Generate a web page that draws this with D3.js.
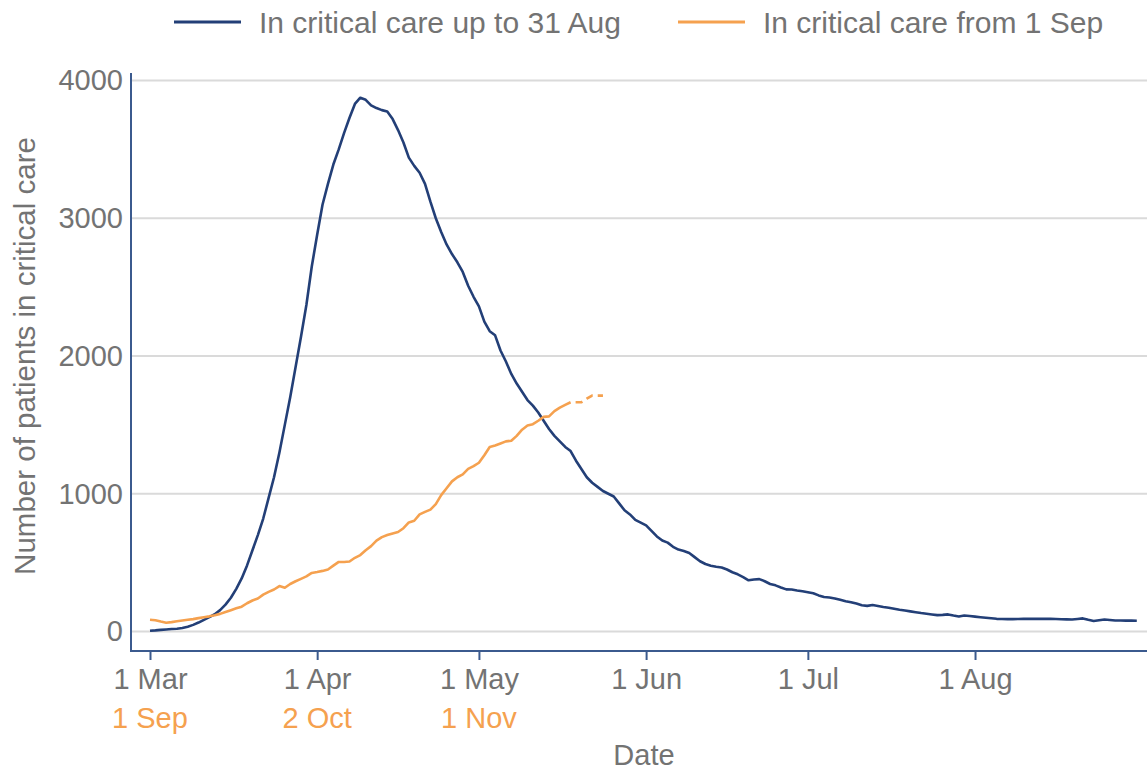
<!DOCTYPE html>
<html>
<head>
<meta charset="utf-8">
<script src="https://cdn.jsdelivr.net/npm/d3@7"></script>
<style>
  html, body { margin: 0; padding: 0; background: #ffffff; }
  svg { display: block; font-family: "Liberation Sans", Arial, sans-serif; }
</style>
</head>
<body>
<svg id="chart" width="1147" height="771"></svg>
<script>
// ---------------- DATA ----------------
// Daily patients in critical care, 1 Mar .. 31 Aug (day index 0..183)
const criticalCareToAug = [
  5, 8, 12, 15, 18, 20, 25, 35, 48, 65,
  85, 105, 125, 155, 195, 245, 310, 385, 480, 590,
  700, 820, 970, 1120, 1300, 1500, 1700, 1920, 2140, 2370,
  2650, 2880, 3100, 3250, 3390, 3500, 3620, 3730, 3830, 3875,
  3860, 3820, 3800, 3785, 3775, 3720, 3640, 3550, 3440, 3380,
  3330, 3250, 3120, 3000, 2900, 2810, 2740, 2680, 2610, 2510,
  2430, 2360, 2250, 2180, 2150, 2040, 1960, 1870, 1800, 1740,
  1680, 1640, 1590, 1530, 1470, 1420, 1380, 1340, 1310, 1240,
  1180, 1120, 1080, 1050, 1020, 1000, 980, 930, 880, 850,
  810, 790, 770, 730, 690, 660, 645, 615, 595, 585,
  570, 540, 510, 490, 478, 470, 465, 450, 430, 415,
  395, 372, 378, 380, 365, 345, 335, 320, 306, 305,
  298, 292, 285, 278, 262, 250, 247, 240, 230, 220,
  213, 203, 190, 186, 192, 185, 178, 172, 165, 158,
  152, 146, 140, 134, 129, 124, 119, 121, 124, 116,
  109, 116, 112, 108, 104, 100, 96, 92, 91, 90,
  90, 91, 92, 92, 92, 92, 92, 92, 91, 89,
  88, 87, 91, 95, 85, 76, 82, 87, 84, 80,
  80, 79, 79, 78
];
// Daily patients in critical care from 1 Sep (day index 0..84)
const criticalCareFromSep = [
  85, 82, 72, 64, 68, 74, 80, 85, 90, 97,
  104, 110, 118, 128, 142, 155, 168, 180, 205, 225,
  240, 268, 288, 305, 330, 318, 345, 365, 382, 400,
  425, 432, 440, 450, 478, 505, 505, 508, 535, 555,
  590, 620, 660, 685, 700, 712, 722, 750, 792, 804,
  850, 868, 885, 925, 990, 1040, 1090, 1120, 1140, 1180,
  1200, 1225, 1280, 1340, 1350, 1365, 1380, 1385, 1420, 1465,
  1495, 1505, 1530, 1558, 1562, 1600, 1625, 1645, 1664, 1664,
  1664, 1690, 1712, 1712, 1712
];
const provisionalFromDay = 78;   // last days of the Sep series drawn dashed

const firstSpringDay = "2020-03-01";
const lastSpringDay = "2020-08-31";
const monthTickDates = ["2020-03-01", "2020-04-01", "2020-05-01", "2020-06-01", "2020-07-01", "2020-08-01"];
const autumnTickLabels = ["1 Sep", "2 Oct", "1 Nov"];
const autumnTickDayOffsets = [0, 31, 61];
const yTickValues = [0, 1000, 2000, 3000, 4000];
const seriesNames = ["In critical care up to 31 Aug", "In critical care from 1 Sep"];

// ---------------- STYLE ----------------
const BLUE = "#233f77";
const ORANGE = "#f5a14f";
const AXIS = "#3b5a8e";
const GRID = "#dadada";
const TEXT = "#737373";

const svg = d3.select("#chart");
const parse = d3.utcParse("%Y-%m-%d");
const start = parse(firstSpringDay);

const plot = { left: 131, right: 1147, top: 73, bottom: 651 };

const x = d3.scaleUtc()
  .domain([start, parse(lastSpringDay)])
  .range([150, 1136.8]);
const y = d3.scaleLinear()
  .domain([0, 4000])
  .range([631.5, 80.5]);

const dayX = i => x(d3.utcDay.offset(start, i));

// gridlines
svg.append("g")
  .selectAll("line")
  .data(yTickValues)
  .join("line")
  .attr("x1", plot.left).attr("x2", plot.right)
  .attr("y1", d => y(d)).attr("y2", d => y(d))
  .attr("stroke", GRID).attr("stroke-width", 2);

// y axis labels
const yAxis = d3.axisLeft(y).tickValues(yTickValues).tickFormat(d3.format("d")).tickSize(0).tickPadding(8);
const gy = svg.append("g").attr("transform", `translate(${plot.left},0)`).call(yAxis);
gy.select(".domain").remove();
gy.selectAll("text").attr("fill", TEXT).style("font-size", "29px")
  .attr("font-family", "Liberation Sans, Arial, sans-serif");

// x axis
const xAxis = d3.axisBottom(x)
  .tickValues(monthTickDates.map(parse))
  .tickFormat(d3.utcFormat("%-d %b"))
  .tickSizeInner(9).tickSizeOuter(0).tickPadding(8);
const gx = svg.append("g").attr("transform", `translate(0,${plot.bottom})`).call(xAxis);
gx.select(".domain").remove();
gx.selectAll(".tick line").attr("stroke", AXIS).attr("stroke-width", 2);
gx.selectAll("text").attr("fill", TEXT).style("font-size", "29px")
  .attr("font-family", "Liberation Sans, Arial, sans-serif");

// secondary (autumn) labels
svg.append("g")
  .selectAll("text")
  .data(autumnTickLabels)
  .join("text")
  .attr("x", (d, i) => dayX(autumnTickDayOffsets[i]))
  .attr("y", 728)
  .attr("text-anchor", "middle")
  .attr("fill", ORANGE)
  .style("font-size", "29px")
  .text(d => d);

// axis lines
svg.append("line")
  .attr("x1", plot.left).attr("x2", plot.left)
  .attr("y1", plot.top).attr("y2", plot.bottom + 1)
  .attr("stroke", AXIS).attr("stroke-width", 2);
svg.append("line")
  .attr("x1", plot.left - 1).attr("x2", plot.right)
  .attr("y1", plot.bottom).attr("y2", plot.bottom)
  .attr("stroke", AXIS).attr("stroke-width", 2);

// axis titles
svg.append("text")
  .attr("x", 644).attr("y", 765)
  .attr("text-anchor", "middle")
  .attr("fill", TEXT).style("font-size", "29px")
  .text("Date");
svg.append("text")
  .attr("transform", "translate(35,356) rotate(-90)")
  .attr("text-anchor", "middle")
  .attr("fill", TEXT).style("font-size", "29.5px")
  .text("Number of patients in critical care");

// lines
const line = d3.line()
  .x((d, i) => dayX(d.i))
  .y(d => y(d.v));

const blueData = criticalCareToAug.map((v, i) => ({ i, v }));
const orangeData = criticalCareFromSep.map((v, i) => ({ i, v }));

svg.append("path")
  .datum(blueData)
  .attr("d", line)
  .attr("fill", "none")
  .attr("stroke", BLUE)
  .attr("stroke-width", 2.6)
  .attr("stroke-linejoin", "round");

svg.append("path")
  .datum(orangeData.filter(d => d.i <= provisionalFromDay))
  .attr("d", line)
  .attr("fill", "none")
  .attr("stroke", ORANGE)
  .attr("stroke-width", 2.6)
  .attr("stroke-linejoin", "round");

svg.append("path")
  .datum(orangeData.filter(d => d.i >= provisionalFromDay))
  .attr("d", line)
  .attr("fill", "none")
  .attr("stroke", ORANGE)
  .attr("stroke-width", 2.6)
  .attr("stroke-dasharray", "7,5")
  .attr("stroke-dashoffset", 7);

// legend
const legendItems = [
  { name: seriesNames[0], color: BLUE, x0: 174 },
  { name: seriesNames[1], color: ORANGE, x0: 678 }
];
const lg = svg.append("g");
legendItems.forEach(item => {
  lg.append("line")
    .attr("x1", item.x0).attr("x2", item.x0 + 67)
    .attr("y1", 22).attr("y2", 22)
    .attr("stroke", item.color).attr("stroke-width", 3);
  lg.append("text")
    .attr("x", item.x0 + 85).attr("y", 33)
    .attr("fill", TEXT).style("font-size", "30px")
    .text(item.name);
});
</script>
</body>
</html>
